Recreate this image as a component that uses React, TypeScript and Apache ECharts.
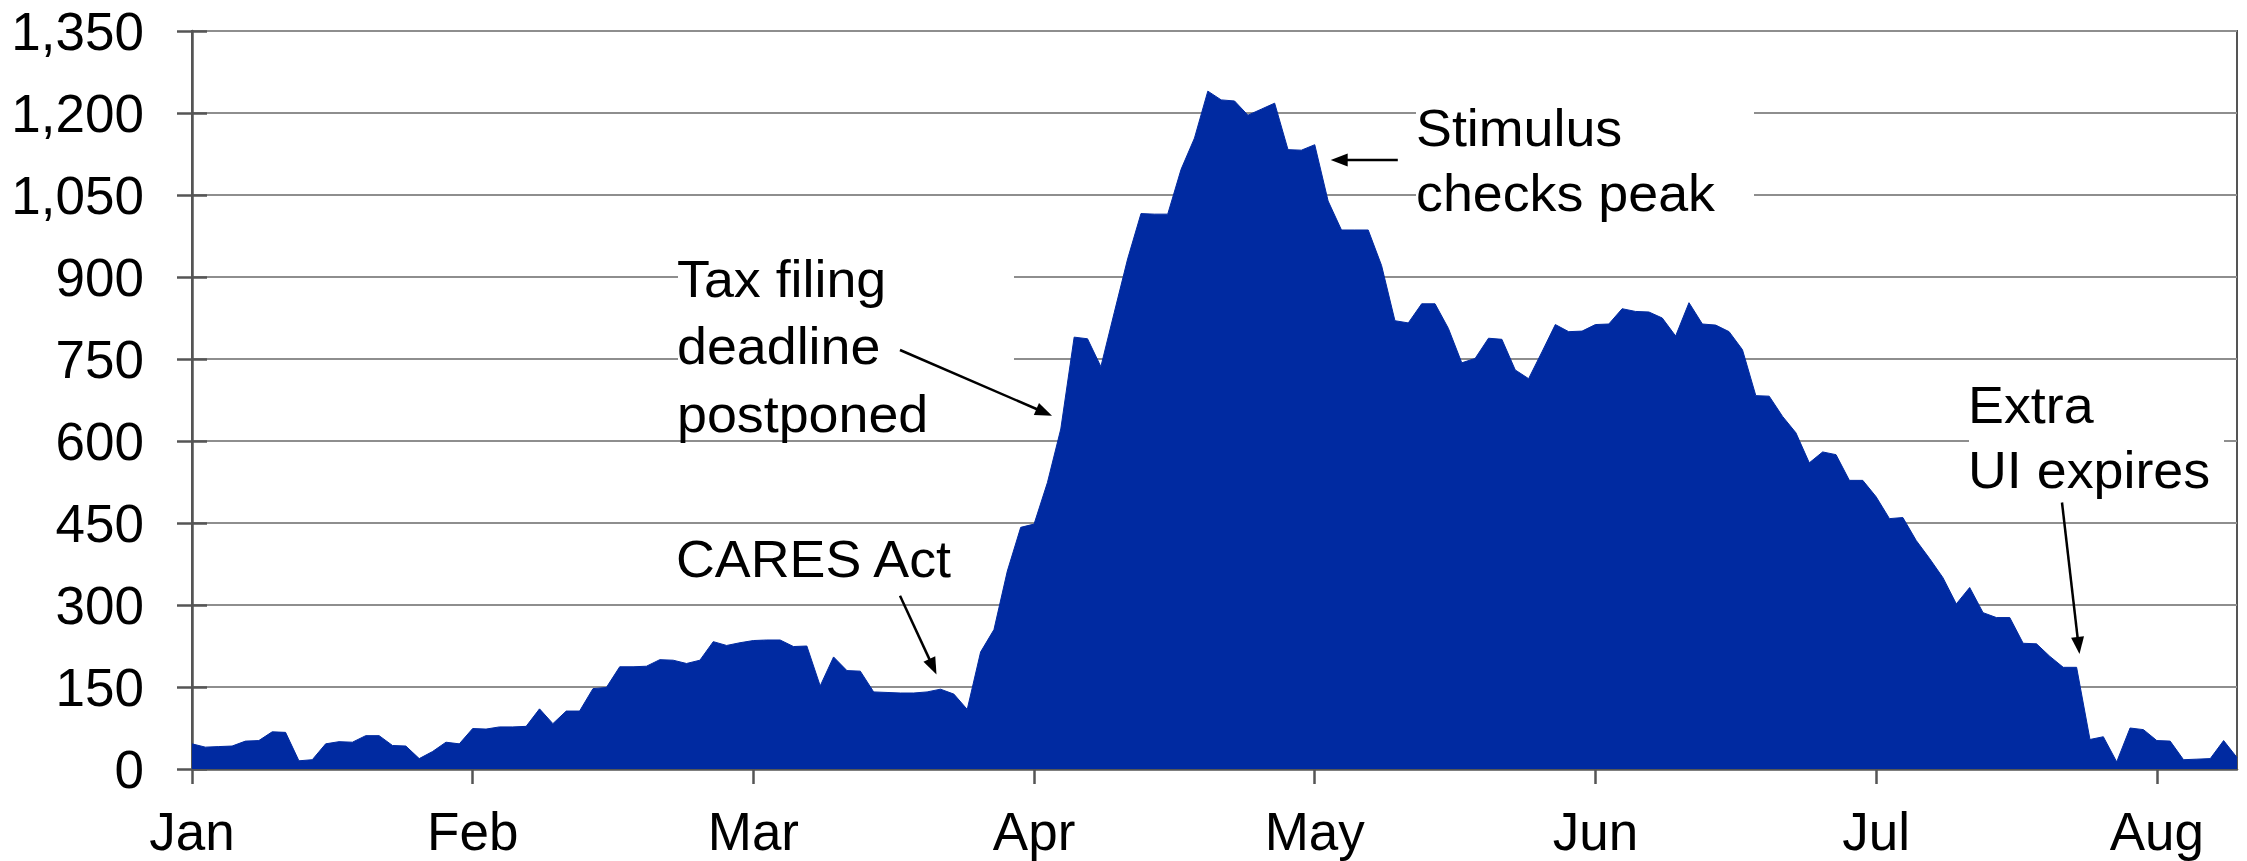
import React, { useEffect, useRef } from "react";
import * as echarts from "echarts";

const months = ["Jan", "Feb", "Mar", "Apr", "May", "Jun", "Jul", "Aug"];
const pointsPerMonth = 21;

const values = [
  46, 40, 41, 42, 51, 52, 68, 67, 15, 17,
  46, 50, 49, 61, 61, 43, 42, 19, 32, 49,
  46, 74, 73, 77, 77, 78, 110, 83, 106, 106,
  147, 149, 187, 187, 188, 200, 199, 193, 199, 233,
  226, 231, 235, 236, 236, 224, 225, 152, 205, 180,
  179, 141, 140, 139, 139, 141, 146, 137, 109, 214,
  255, 362, 442, 448, 524, 622, 790, 787, 736, 835,
  933, 1016, 1015, 1015, 1097, 1154, 1240, 1224, 1222, 1196,
  1207, 1218, 1133, 1132, 1142, 1039, 986, 986, 986, 921,
  820, 816, 851, 851, 806, 743, 751, 788, 786, 730,
  714, 763, 813, 800, 801, 813, 814, 842, 837, 836,
  825, 792, 853, 814, 812, 800, 767, 683, 682, 645,
  615, 560, 580, 575, 528, 528, 498, 458, 460, 418,
  385, 350, 302, 332, 286, 277, 277, 230, 229, 206,
  186, 186, 54, 59, 13, 75, 72, 52, 51, 17,
  18, 19, 52, 21,
];

const yMin = 0;
const yMax = 1350;
const yStep = 150;

const xCategories = values.map((_, i) =>
  i % pointsPerMonth === 0 ? months[i / pointsPerMonth] ?? "" : ""
);

const FONT = '"Liberation Sans", Arial, sans-serif';
const FS = 51;
const AXIS_FS = 53;
const AXIS = "#555555";
const GRIDC = "#8e8e8e";
const FILL = "#002aa1";

function arrow(x1: number, y1: number, x2: number, y2: number) {
  const dx = x2 - x1;
  const dy = y2 - y1;
  const L = Math.hypot(dx, dy);
  const ux = dx / L;
  const uy = dy / L;
  const hl = 17;
  const hw = 6.5;
  const bx = x2 - ux * hl;
  const by = y2 - uy * hl;
  return [
    {
      type: "line",
      shape: { x1, y1, x2: bx + ux * 2, y2: by + uy * 2 },
      style: { stroke: "#000", lineWidth: 2.5 },
      z: 10,
    },
    {
      type: "polygon",
      shape: {
        points: [
          [x2, y2],
          [bx - uy * hw, by + ux * hw],
          [bx + uy * hw, by - ux * hw],
        ],
      },
      style: { fill: "#000" },
      z: 10,
    },
  ];
}

function label(text: string, x: number, y: number) {
  return {
    type: "text",
    x,
    y,
    scaleX: 1.055,
    z: 10,
    style: {
      text,
      fill: "#000",
      fontSize: FS,
      fontFamily: FONT,
      align: "left",
      verticalAlign: "middle",
    },
  };
}

function box(x: number, y: number, w: number, h: number) {
  return {
    type: "rect",
    shape: { x, y, width: w, height: h },
    style: { fill: "#ffffff" },
    z: 5,
  };
}

export default function App() {
  const ref = useRef<HTMLDivElement>(null);

  useEffect(() => {
    if (!ref.current) return;
    const chart = echarts.init(ref.current, undefined, { renderer: "svg" });
    const tickShow = (i: number) => i % pointsPerMonth === 0;

    const option: any = {
      animation: false,
      backgroundColor: "#ffffff",
      grid: {
        left: 192,
        right: 10,
        top: 31,
        bottom: 92,
        show: true,
        borderColor: AXIS,
        borderWidth: 2,
        backgroundColor: "transparent",
      },
      xAxis: [
        {
          type: "category",
          data: xCategories,
          boundaryGap: false,
          position: "bottom",
          axisLine: { show: true, lineStyle: { color: AXIS, width: 2.5 } },
          axisTick: {
            show: true,
            interval: (i: number) => tickShow(i),
            length: 15,
            lineStyle: { color: AXIS, width: 2.5 },
          },
          axisLabel: {
            interval: (i: number) => tickShow(i),
            color: "#000",
            fontSize: AXIS_FS,
            fontFamily: FONT,
            margin: 36,
          },
          splitLine: { show: false },
        },
        {
          type: "category",
          data: xCategories,
          boundaryGap: false,
          position: "bottom",
          axisLine: { show: false },
          axisTick: {
            show: true,
            inside: true,
            interval: (i: number) => tickShow(i),
            length: 15,
            lineStyle: { color: AXIS, width: 2.5 },
          },
          axisLabel: { show: false },
          splitLine: { show: false },
        },
      ],
      yAxis: [
        {
          type: "value",
          min: yMin,
          max: yMax,
          interval: yStep,
          axisLine: { show: true, lineStyle: { color: AXIS, width: 2.5 } },
          axisTick: { show: true, length: 15, lineStyle: { color: AXIS, width: 2.5 } },
          axisLabel: {
            color: "#000",
            fontSize: AXIS_FS,
            fontFamily: FONT,
            margin: 48,
            formatter: (v: number) => v.toLocaleString("en-US"),
          },
          splitLine: { show: true, lineStyle: { color: GRIDC, width: 2 } },
        },
        {
          type: "value",
          min: yMin,
          max: yMax,
          interval: yStep,
          position: "left",
          axisLine: { show: false },
          axisTick: {
            show: true,
            inside: true,
            length: 15,
            lineStyle: { color: AXIS, width: 2.5 },
          },
          axisLabel: { show: false },
          splitLine: { show: false },
        },
      ],
      series: [
        {
          type: "line",
          data: values,
          xAxisIndex: 0,
          yAxisIndex: 0,
          symbol: "none",
          lineStyle: { color: FILL, width: 1 },
          areaStyle: { color: FILL, opacity: 1 },
          z: 2,
        },
      ],
      graphic: [
        box(678, 240, 336, 190),
        box(1416, 95, 338, 125),
        box(1969, 375, 255, 125),
        label("Tax filing", 677, 279),
        label("deadline", 677, 346.5),
        label("postponed", 677, 414),
        label("CARES Act", 676, 559),
        label("Stimulus", 1416, 128.5),
        label("checks peak", 1416, 193),
        label("Extra", 1968, 405.5),
        label("UI expires", 1968, 470),
        ...arrow(900, 350, 1052, 415.7),
        ...arrow(900, 595.7, 936.5, 674.5),
        ...arrow(1397.8, 160, 1330.7, 160),
        ...arrow(2062, 502.5, 2079.5, 654),
      ],
    };

    chart.setOption(option);
    return () => {
      chart.dispose();
    };
  }, []);

  return (
    <div
      ref={ref}
      style={{ position: "fixed", left: 0, top: 0, width: 2247, height: 861 }}
    />
  );
}
